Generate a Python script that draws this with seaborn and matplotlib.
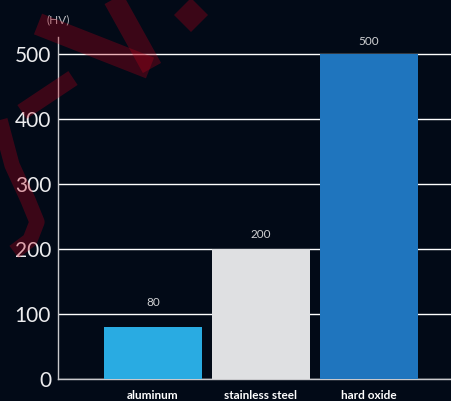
import pandas as pd
import seaborn as sns
from matplotlib import pyplot as plt
from matplotlib.lines import Line2D

materials = ["aluminum", "stainless steel", "hard oxide"]
hardness = [80, 200, 500]
bar_colors = ["#29abe2", "#dfe0e2", "#1f75be"]
y_ticks = [0, 100, 200, 300, 400, 500]
unit_label = "(HV)"

BG = "#020a17"
W, H = 452, 401

sns.set_theme(style="dark")
plt.rcParams["font.family"] = ["Lato", "DejaVu Sans"]

fig = plt.figure(figsize=(W / 100, H / 100), dpi=100, facecolor=BG)
ax = fig.add_axes([58 / W, 1 - 379 / H, 1 - 58 / W, (379 - 37) / H])
ax.set_facecolor("none")

df = pd.DataFrame({"material": materials, "hardness": hardness})
sns.barplot(data=df, x="material", y="hardness", hue="material",
            palette=bar_colors, saturation=1, width=98 / 108,
            linewidth=0, legend=False, ax=ax, zorder=3)

ax.set_xlim(-0.88, 2.77)
ax.set_ylim(0, 526)
ax.set_yticks(y_ticks)
ax.set_xlabel("")
ax.set_ylabel("")

ax.yaxis.grid(True, color="white", lw=1.0)
ax.xaxis.grid(False)
ax.set_axisbelow(True)
for s in ["top", "right"]:
    ax.spines[s].set_visible(False)
for s in ["left", "bottom"]:
    ax.spines[s].set_color("#c9c9cc")
    ax.spines[s].set_linewidth(1.0)

ax.tick_params(axis="y", length=0, pad=5, labelsize=15, labelcolor="#ececee")
ax.tick_params(axis="x", length=0, pad=8, labelsize=8.5, labelcolor="white")
for lab in ax.get_xticklabels():
    lab.set_fontweight("bold")

# value labels over the bars
pads = [14, 6.5, 5]
for i, (v, p) in enumerate(zip(hardness, pads)):
    ax.annotate(str(v), (i, v), xytext=(0, p), textcoords="offset points",
                ha="center", va="bottom", fontsize=8.5, color="#cfd0d2")

fig.text(58 / W, 1 - 20 / H, unit_label, ha="center", va="center",
         fontsize=8.5, color="#b9b9bd")

# faint red watermark strokes
wm = dict(color="#c00018", alpha=0.3, solid_capstyle="butt", zorder=10)
strokes = [
    ([38, 150], [24, 68], 16),
    ([112, 152], [-4, 68], 15),
    ([73, 22], [78, 112], 12),
    ([0, 12, 28, 37, 30, 14], [120, 165, 200, 222, 240, 252], 11),
]
for xs, ys, lw in strokes:
    fig.add_artist(Line2D([x / W for x in xs], [1 - y / H for y in ys],
                          transform=fig.transFigure, lw=lw, **wm))
fig.add_artist(Line2D([191 / W], [1 - 15 / H], transform=fig.transFigure,
                      marker="D", markersize=17, ls="none",
                      markerfacecolor="#c00018", markeredgewidth=0,
                      alpha=0.3, zorder=10))

fig.savefig("out.png", dpi=100, facecolor=BG)
